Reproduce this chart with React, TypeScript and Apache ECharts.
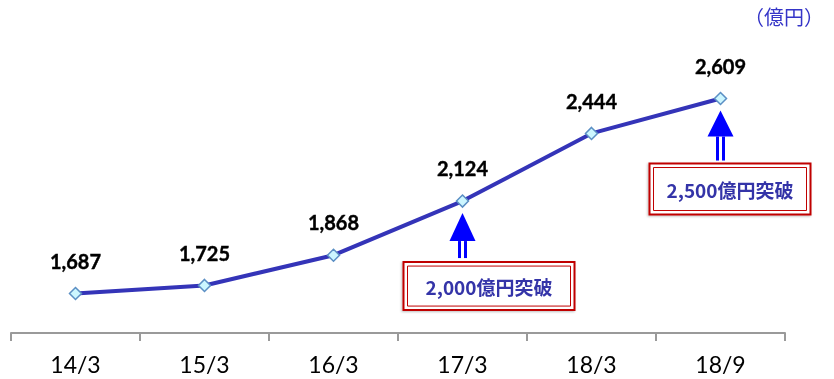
import React, { useEffect, useRef } from "react";
import * as echarts from "echarts";

const categories = ["14/3", "15/3", "16/3", "17/3", "18/3", "18/9"];
const values = [1687, 1725, 1868, 2124, 2444, 2609];
const unitLabel = "（億円）";
const annotations = [
  { index: 3, text: "2,000億円突破", boxDx: -59, boxW: 171, boxTop: 61, boxH: 48, apex: 12, base: 40, shaftEnd: 57 },
  { index: 5, text: "2,500億円突破", boxDx: -71, boxW: 161, boxTop: 65, boxH: 51, apex: 12, base: 38, shaftEnd: 62 },
];

export default function App() {
  const ref = useRef<HTMLDivElement>(null);
  useEffect(() => {
    if (!ref.current) return;
    const chart = echarts.init(ref.current, null, { renderer: "svg" });
    chart.setOption({
      animation: false,
      grid: { left: 11, right: 49, top: 37, bottom: 46, containLabel: false },
      xAxis: {
        type: "category",
        data: categories,
        boundaryGap: true,
        axisLine: { lineStyle: { color: "#9a9a9a", width: 2 } },
        axisTick: { show: true, length: 8, inside: false, lineStyle: { color: "#9a9a9a", width: 2 } },
        axisLabel: { fontFamily: "Lato, 'Noto Sans CJK JP'", fontSize: 23, color: "#000", margin: 19 },
      },
      yAxis: {
        type: "value",
        min: 1500,
        max: 2900,
        show: false,
        splitLine: { show: false },
      },
      series: [
        {
          type: "line",
          data: values,
          symbol: "diamond",
          symbolSize: 12,
          itemStyle: { color: "#ccf6ff", borderColor: "#5b8fc4", borderWidth: 1.5 },
          lineStyle: { color: "#3434b8", width: 4 },
          label: {
            show: true,
            position: "top",
            distance: 16,
            fontFamily: "Lato, 'Noto Sans CJK JP'",
            fontWeight: "bold",
            fontSize: 20,
            color: "#000",
            textBorderColor: "#000",
            textBorderWidth: 0.4,
            formatter: (p: any) => p.value.toLocaleString("en-US"),
          },
          z: 3,
        },
      ],
    });

    const graphics: any[] = [
      {
        type: "text",
        right: 10,
        top: 6,
        style: {
          text: unitLabel,
          fontFamily: "'Noto Sans CJK JP'",
          fontSize: 20,
          fill: "#3535c8",
        },
      },
    ];
    annotations.forEach((a) => {
      const [px, py] = chart.convertToPixel({ seriesIndex: 0 }, [a.index, values[a.index]]) as number[];
      graphics.push(
        {
          type: "polygon",
          shape: { points: [[px, py + a.apex], [px - 13, py + a.base], [px + 13, py + a.base]] },
          style: { fill: "#0000ff" },
        },
        {
          type: "rect",
          shape: { x: px - 4.5, y: py + a.base, width: 3, height: a.shaftEnd - a.base },
          style: { fill: "#0000ff" },
        },
        {
          type: "rect",
          shape: { x: px + 1.5, y: py + a.base, width: 3, height: a.shaftEnd - a.base },
          style: { fill: "#0000ff" },
        },
        {
          type: "rect",
          shape: { x: px + a.boxDx, y: py + a.boxTop, width: a.boxW, height: a.boxH },
          style: { fill: "#fff", stroke: "#c00000", lineWidth: 2, shadowColor: "rgba(0,0,0,0.25)", shadowBlur: 2, shadowOffsetX: -1, shadowOffsetY: 1 },
        },
        {
          type: "rect",
          shape: { x: px + a.boxDx + 4, y: py + a.boxTop + 4, width: a.boxW - 8, height: a.boxH - 8 },
          style: { fill: "none", stroke: "#c00000", lineWidth: 1 },
        },
        {
          type: "text",
          x: px + a.boxDx + a.boxW / 2,
          y: py + a.boxTop + a.boxH / 2,
          style: {
            text: a.text,
            fontFamily: "'Noto Sans CJK JP'",
            fontWeight: "bold",
            fontSize: 19,
            fill: "#3434a8",
            align: "center",
            verticalAlign: "middle",
          },
        }
      );
    });
    chart.setOption({ graphic: graphics });
    return () => chart.dispose();
  }, []);
  return <div ref={ref} style={{ position: "fixed", left: 0, top: 0, width: 834, height: 379 }} />;
}
